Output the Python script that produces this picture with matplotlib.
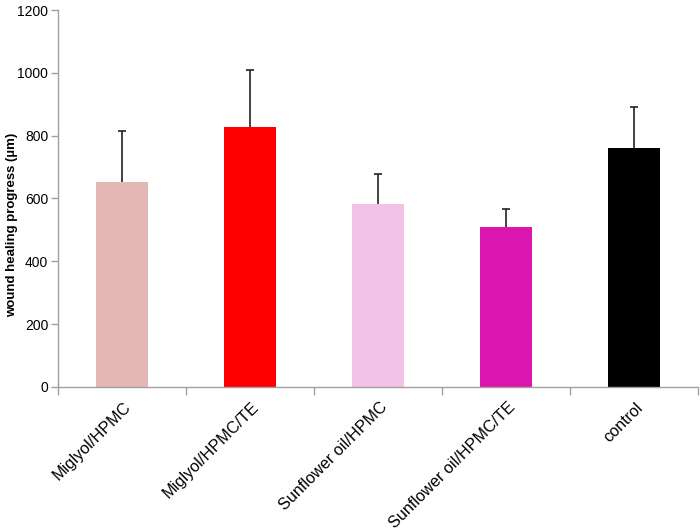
import matplotlib
matplotlib.use("Agg")
import matplotlib.pyplot as plt
import numpy as np

categories = ["Miglyol/HPMC", "Miglyol/HPMC/TE", "Sunflower oil/HPMC",
              "Sunflower oil/HPMC/TE", "control"]
values = [653, 826, 581, 508, 762]
errors = [162, 182, 97, 58, 128]
colors = ["#E4B7B7", "#FF0000", "#F2C1E6", "#DA15B0", "#000000"]
yticks = [0, 200, 400, 600, 800, 1000, 1200]

plt.rcParams['font.family'] = ['Liberation Sans', 'DejaVu Sans']

fig = plt.figure(figsize=(7, 5.32), dpi=100)
ax = fig.add_axes([58/700, 145/532, 640/700, 377/532])

x = np.arange(len(categories))
vals = np.array(values)
errs = np.array(errors)
ax.bar(x, vals, width=0.4, color=colors, zorder=2)
ax.vlines(x, vals, vals + errs, color='#222222', linewidth=1.2, zorder=3)
ax.plot(x, vals + errs, linestyle='none', marker='_', markersize=6,
        markeredgewidth=1.2, color='#222222', zorder=3)

ax.set_xlim(-0.5, len(categories) - 0.5)
ax.set_ylim(0, 1200)
ax.set_yticks(yticks)
ax.set_yticklabels([str(v) for v in yticks], fontsize=10)
ax.set_xticks(np.arange(len(categories) + 1) - 0.5)
ax.set_xticklabels([])
ax.tick_params(axis='both', color='#A0A0A0', length=5, width=1)
ax.tick_params(axis='y', pad=2)
ax.tick_params(axis='x', length=6)

for xi, lab in zip(x, categories):
    ax.text(xi + 0.01, -40, lab, rotation=45, ha='right', va='top',
            rotation_mode='anchor', fontsize=11.7, transform=ax.transData)

for s in ['top', 'right']:
    ax.spines[s].set_visible(False)
for s in ['left', 'bottom']:
    ax.spines[s].set_color('#A0A0A0')
    ax.spines[s].set_linewidth(1)

ax.set_ylabel("wound healing progress (µm)", fontsize=9.5, fontweight='bold')
ax.yaxis.set_label_coords(-0.062, 0.43)

fig.savefig("out.png", dpi=100)
